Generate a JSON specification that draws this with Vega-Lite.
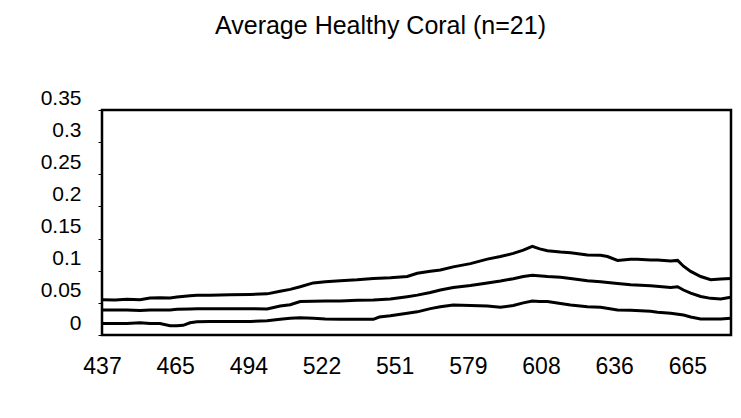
{
  "$schema": "https://vega.github.io/schema/vega-lite/v6.json",
  "autosize": {"type": "none"},
  "width": 629,
  "height": 225,
  "padding": {"left": 102, "top": 110, "right": 10, "bottom": 83},
  "background": "white",
  "title": {
    "text": "Average Healthy Coral (n=21)",
    "font": "Liberation Sans",
    "fontSize": 25,
    "fontWeight": "normal",
    "color": "black",
    "offset": 48,
    "dx": -36
  },
  "config": {
    "view": {"stroke": "black", "strokeWidth": 2.5},
    "axis": {"labelFont": "Liberation Sans", "labelColor": "black", "grid": false, "domain": false}
  },
  "data": {"values": [
    {"wl": 437.0, "s": "top", "r": 0.055}, {"wl": 442.1, "s": "top", "r": 0.0545}, {"wl": 446.7, "s": "top", "r": 0.0555}, {"wl": 451.8, "s": "top", "r": 0.055}, {"wl": 455.7, "s": "top", "r": 0.0575}, {"wl": 459.6, "s": "top", "r": 0.058}, {"wl": 463.5, "s": "top", "r": 0.0575}, {"wl": 466.2, "s": "top", "r": 0.059}, {"wl": 471.3, "s": "top", "r": 0.061}, {"wl": 474.0, "s": "top", "r": 0.062}, {"wl": 479.1, "s": "top", "r": 0.062}, {"wl": 486.9, "s": "top", "r": 0.0625}, {"wl": 494.7, "s": "top", "r": 0.063}, {"wl": 501.3, "s": "top", "r": 0.064}, {"wl": 506.4, "s": "top", "r": 0.068}, {"wl": 510.3, "s": "top", "r": 0.071}, {"wl": 514.2, "s": "top", "r": 0.075}, {"wl": 519.3, "s": "top", "r": 0.081}, {"wl": 524.0, "s": "top", "r": 0.083}, {"wl": 529.8, "s": "top", "r": 0.0845}, {"wl": 536.4, "s": "top", "r": 0.086}, {"wl": 542.7, "s": "top", "r": 0.088}, {"wl": 549.3, "s": "top", "r": 0.089}, {"wl": 555.9, "s": "top", "r": 0.091}, {"wl": 559.8, "s": "top", "r": 0.096}, {"wl": 564.9, "s": "top", "r": 0.099}, {"wl": 568.8, "s": "top", "r": 0.101}, {"wl": 573.8, "s": "top", "r": 0.106}, {"wl": 580.5, "s": "top", "r": 0.111}, {"wl": 587.1, "s": "top", "r": 0.118}, {"wl": 592.2, "s": "top", "r": 0.122}, {"wl": 597.2, "s": "top", "r": 0.127}, {"wl": 601.1, "s": "top", "r": 0.132}, {"wl": 604.6, "s": "top", "r": 0.138}, {"wl": 607.5, "s": "top", "r": 0.134}, {"wl": 610.5, "s": "top", "r": 0.131}, {"wl": 615.6, "s": "top", "r": 0.129}, {"wl": 619.5, "s": "top", "r": 0.128}, {"wl": 626.1, "s": "top", "r": 0.1245}, {"wl": 631.2, "s": "top", "r": 0.124}, {"wl": 633.9, "s": "top", "r": 0.122}, {"wl": 637.8, "s": "top", "r": 0.116}, {"wl": 642.9, "s": "top", "r": 0.118}, {"wl": 645.6, "s": "top", "r": 0.118}, {"wl": 650.7, "s": "top", "r": 0.1165}, {"wl": 653.4, "s": "top", "r": 0.1165}, {"wl": 658.5, "s": "top", "r": 0.115}, {"wl": 661.2, "s": "top", "r": 0.116}, {"wl": 663.5, "s": "top", "r": 0.107}, {"wl": 666.3, "s": "top", "r": 0.099}, {"wl": 670.2, "s": "top", "r": 0.091}, {"wl": 674.1, "s": "top", "r": 0.086}, {"wl": 678.0, "s": "top", "r": 0.087}, {"wl": 681.9, "s": "top", "r": 0.088},
    {"wl": 437.0, "s": "mid", "r": 0.039}, {"wl": 442.1, "s": "mid", "r": 0.039}, {"wl": 446.7, "s": "mid", "r": 0.039}, {"wl": 451.8, "s": "mid", "r": 0.038}, {"wl": 455.7, "s": "mid", "r": 0.039}, {"wl": 459.6, "s": "mid", "r": 0.039}, {"wl": 463.5, "s": "mid", "r": 0.039}, {"wl": 466.2, "s": "mid", "r": 0.04}, {"wl": 471.3, "s": "mid", "r": 0.0405}, {"wl": 474.0, "s": "mid", "r": 0.041}, {"wl": 479.1, "s": "mid", "r": 0.041}, {"wl": 486.9, "s": "mid", "r": 0.041}, {"wl": 494.7, "s": "mid", "r": 0.041}, {"wl": 501.3, "s": "mid", "r": 0.0405}, {"wl": 506.4, "s": "mid", "r": 0.045}, {"wl": 510.3, "s": "mid", "r": 0.047}, {"wl": 514.2, "s": "mid", "r": 0.052}, {"wl": 519.3, "s": "mid", "r": 0.0525}, {"wl": 524.0, "s": "mid", "r": 0.053}, {"wl": 529.8, "s": "mid", "r": 0.053}, {"wl": 536.4, "s": "mid", "r": 0.054}, {"wl": 542.7, "s": "mid", "r": 0.0545}, {"wl": 549.3, "s": "mid", "r": 0.056}, {"wl": 555.9, "s": "mid", "r": 0.0596}, {"wl": 559.8, "s": "mid", "r": 0.062}, {"wl": 564.9, "s": "mid", "r": 0.066}, {"wl": 568.8, "s": "mid", "r": 0.07}, {"wl": 573.8, "s": "mid", "r": 0.074}, {"wl": 580.5, "s": "mid", "r": 0.077}, {"wl": 587.1, "s": "mid", "r": 0.081}, {"wl": 592.2, "s": "mid", "r": 0.084}, {"wl": 597.2, "s": "mid", "r": 0.0876}, {"wl": 601.1, "s": "mid", "r": 0.091}, {"wl": 604.6, "s": "mid", "r": 0.093}, {"wl": 610.5, "s": "mid", "r": 0.091}, {"wl": 615.6, "s": "mid", "r": 0.09}, {"wl": 619.5, "s": "mid", "r": 0.088}, {"wl": 626.1, "s": "mid", "r": 0.0845}, {"wl": 631.2, "s": "mid", "r": 0.083}, {"wl": 637.8, "s": "mid", "r": 0.08}, {"wl": 642.9, "s": "mid", "r": 0.078}, {"wl": 650.7, "s": "mid", "r": 0.0767}, {"wl": 658.5, "s": "mid", "r": 0.074}, {"wl": 661.2, "s": "mid", "r": 0.075}, {"wl": 663.5, "s": "mid", "r": 0.07}, {"wl": 666.3, "s": "mid", "r": 0.065}, {"wl": 670.2, "s": "mid", "r": 0.06}, {"wl": 674.1, "s": "mid", "r": 0.057}, {"wl": 678.0, "s": "mid", "r": 0.056}, {"wl": 681.9, "s": "mid", "r": 0.0586},
    {"wl": 437.0, "s": "low", "r": 0.018}, {"wl": 442.1, "s": "low", "r": 0.018}, {"wl": 446.7, "s": "low", "r": 0.018}, {"wl": 451.8, "s": "low", "r": 0.019}, {"wl": 455.7, "s": "low", "r": 0.018}, {"wl": 459.6, "s": "low", "r": 0.018}, {"wl": 463.5, "s": "low", "r": 0.0145}, {"wl": 466.2, "s": "low", "r": 0.0145}, {"wl": 468.6, "s": "low", "r": 0.015}, {"wl": 471.3, "s": "low", "r": 0.019}, {"wl": 474.0, "s": "low", "r": 0.0205}, {"wl": 479.1, "s": "low", "r": 0.021}, {"wl": 486.9, "s": "low", "r": 0.021}, {"wl": 494.7, "s": "low", "r": 0.021}, {"wl": 501.3, "s": "low", "r": 0.0223}, {"wl": 506.4, "s": "low", "r": 0.0244}, {"wl": 510.3, "s": "low", "r": 0.026}, {"wl": 514.2, "s": "low", "r": 0.027}, {"wl": 519.3, "s": "low", "r": 0.026}, {"wl": 524.0, "s": "low", "r": 0.025}, {"wl": 529.8, "s": "low", "r": 0.0244}, {"wl": 536.4, "s": "low", "r": 0.0244}, {"wl": 542.7, "s": "low", "r": 0.0244}, {"wl": 545.0, "s": "low", "r": 0.028}, {"wl": 549.3, "s": "low", "r": 0.03}, {"wl": 555.9, "s": "low", "r": 0.034}, {"wl": 559.8, "s": "low", "r": 0.036}, {"wl": 564.9, "s": "low", "r": 0.041}, {"wl": 568.8, "s": "low", "r": 0.044}, {"wl": 573.8, "s": "low", "r": 0.0467}, {"wl": 580.5, "s": "low", "r": 0.046}, {"wl": 587.1, "s": "low", "r": 0.045}, {"wl": 592.2, "s": "low", "r": 0.043}, {"wl": 597.2, "s": "low", "r": 0.046}, {"wl": 601.1, "s": "low", "r": 0.05}, {"wl": 604.6, "s": "low", "r": 0.053}, {"wl": 607.5, "s": "low", "r": 0.052}, {"wl": 610.5, "s": "low", "r": 0.052}, {"wl": 615.6, "s": "low", "r": 0.049}, {"wl": 619.5, "s": "low", "r": 0.0467}, {"wl": 626.1, "s": "low", "r": 0.044}, {"wl": 631.2, "s": "low", "r": 0.043}, {"wl": 637.8, "s": "low", "r": 0.039}, {"wl": 642.9, "s": "low", "r": 0.0385}, {"wl": 650.7, "s": "low", "r": 0.037}, {"wl": 653.4, "s": "low", "r": 0.0355}, {"wl": 658.5, "s": "low", "r": 0.034}, {"wl": 663.5, "s": "low", "r": 0.031}, {"wl": 666.3, "s": "low", "r": 0.028}, {"wl": 670.2, "s": "low", "r": 0.025}, {"wl": 674.1, "s": "low", "r": 0.025}, {"wl": 678.0, "s": "low", "r": 0.025}, {"wl": 681.9, "s": "low", "r": 0.026}
  ]},
  "mark": {"type": "line", "color": "black", "strokeWidth": 3, "clip": true},
  "encoding": {
    "x": {
      "field": "wl", "type": "quantitative",
      "scale": {"domain": [437, 682], "nice": false, "zero": false},
      "axis": {
        "title": null,
        "values": [437, 465.5, 494, 522.5, 551, 579.5, 608, 636.5, 665],
        "labelExpr": "floor(datum.value)",
        "labelFontSize": 23,
        "ticks": false,
        "labelPadding": 20,
        "labelFlush": false
      }
    },
    "y": {
      "field": "r", "type": "quantitative",
      "scale": {"domain": [0, 0.35], "nice": false},
      "axis": {
        "title": null,
        "values": [0, 0.05, 0.1, 0.15, 0.2, 0.25, 0.3, 0.35],
        "labelExpr": "datum.value == 0 ? '0' : format(datum.value, '.2~f')",
        "labelFontSize": 21,
        "tickSize": 4,
        "tickColor": "black",
        "labelPadding": 17,
        "labelOffset": -12,
        "labelFlush": false
      }
    },
    "detail": {"field": "s", "type": "nominal"}
  }
}
